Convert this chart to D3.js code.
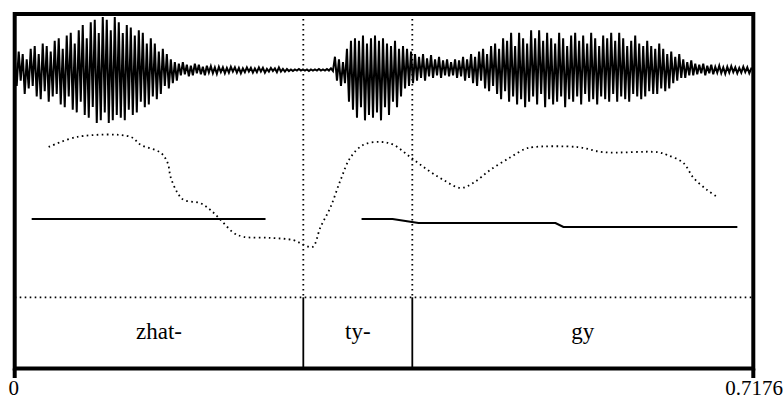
<!DOCTYPE html>
<html>
<head>
<meta charset="utf-8">
<script src="https://cdn.jsdelivr.net/npm/d3@7"></script>
<style>
  html, body { margin: 0; padding: 0; background: #fff; }
  svg text { font-family: "Times New Roman", Times, "Liberation Serif", "DejaVu Serif", "Noto Serif", serif; fill: #000; }
</style>
</head>
<body>
<div id="chart"></div>
<script>
const duration = 0.7176; // seconds

// waveform samples (relative amplitude), evenly spread over the whole duration
const waveform = [
  0.25,-0.3,0.35,-0.2,0.3,-0.45,0.2,-0.35,0.4,-0.3,0.45,-0.5,0.3,-0.55,0.5,-0.4,0.45,-0.6,0.35,-0.5,
  0.55,-0.45,0.6,-0.65,0.4,-0.7,0.65,-0.5,0.7,-0.75,0.5,-0.8,0.75,-0.6,0.85,-0.85,0.6,-0.9,0.9,-0.7,
  0.95,-1.0,0.7,-0.95,1.0,-0.8,0.95,-1.0,0.75,-0.95,1.0,-0.85,0.9,-0.9,0.7,-0.95,0.85,-0.75,0.8,-0.85,
  0.65,-0.8,0.75,-0.6,0.7,-0.7,0.5,-0.65,0.6,-0.5,0.5,-0.55,0.35,-0.45,0.4,-0.3,0.3,-0.35,0.2,-0.25,
  0.15,-0.2,0.12,-0.1,0.15,-0.08,0.1,-0.12,0.08,-0.1,0.12,-0.06,0.1,-0.08,0.06,-0.1,0.08,-0.05,0.07,-0.06,
  0.05,-0.07,0.06,-0.04,0.05,-0.06,0.04,-0.05,0.06,-0.03,0.05,-0.05,0.04,-0.06,0.03,-0.04,0.05,-0.03,0.04,-0.05,
  0.03,-0.04,0.05,-0.03,0.04,-0.05,0.02,-0.03,0.04,-0.02,0.03,-0.04,0.05,-0.03,0.02,-0.03,0.02,-0.02,0.01,-0.02,
  0.01,-0.01,0.02,-0.01,0.01,-0.01,0.01,-0.02,0.01,-0.01,0.01,-0.01,0.02,-0.01,0.01,-0.01,0.02,-0.01,0.03,-0.02,
  0.25,-0.2,0.2,-0.3,0.15,-0.25,0.4,-0.6,0.55,-0.75,0.6,-0.9,0.55,-0.7,0.65,-0.95,0.5,-0.85,0.6,-0.9,
  0.65,-0.8,0.55,-0.95,0.6,-0.7,0.5,-0.85,0.45,-0.6,0.55,-0.7,0.4,-0.5,0.45,-0.35,0.4,-0.3,0.35,-0.25,
  0.3,-0.2,0.25,-0.15,0.3,-0.2,0.22,-0.12,0.28,-0.15,0.2,-0.1,0.25,-0.15,0.18,-0.1,0.2,-0.12,0.15,-0.1,
  0.2,-0.15,0.18,-0.12,0.25,-0.2,0.2,-0.15,0.3,-0.25,0.25,-0.3,0.35,-0.2,0.4,-0.35,0.3,-0.4,0.45,-0.3,
  0.5,-0.45,0.4,-0.55,0.6,-0.4,0.55,-0.6,0.7,-0.5,0.45,-0.65,0.7,-0.55,0.6,-0.7,0.5,-0.6,0.75,-0.5,
  0.6,-0.65,0.75,-0.45,0.55,-0.7,0.7,-0.55,0.6,-0.65,0.5,-0.6,0.7,-0.5,0.6,-0.7,0.45,-0.55,0.65,-0.6,
  0.7,-0.5,0.55,-0.65,0.65,-0.45,0.5,-0.6,0.7,-0.55,0.6,-0.65,0.45,-0.5,0.65,-0.55,0.6,-0.6,0.7,-0.45,
  0.55,-0.6,0.7,-0.5,0.6,-0.55,0.45,-0.6,0.55,-0.45,0.65,-0.5,0.5,-0.55,0.45,-0.5,0.55,-0.4,0.45,-0.45,
  0.4,-0.45,0.5,-0.35,0.4,-0.4,0.3,-0.35,0.35,-0.25,0.25,-0.2,0.3,-0.15,0.2,-0.15,0.15,-0.1,0.18,-0.1,
  0.12,-0.08,0.1,-0.06,0.12,-0.1,0.08,-0.06,0.1,-0.08,0.06,-0.05,0.08,-0.06,0.05,-0.07,0.06,-0.05,0.07,-0.04,
  0.05,-0.06,0.04,-0.05,0.06,-0.04,0.05,-0.06,0.03,0.02
];

// intensity contour (dB)
const intensityTimes = [0.0330,0.0612,0.1126,0.1223,0.1418,0.1486,0.1515,0.1583,0.1641,0.1806,0.1903,0.2000,0.2127,0.2224,
  0.2486,0.2709,0.2806,0.2894,0.2971,0.3068,0.3166,0.3263,0.3389,0.3554,0.3680,0.3845,0.4010,0.4166,0.4331,0.4457,
  0.4622,0.4816,0.4962,0.5040,0.5467,0.5720,0.6244,0.6341,0.6497,0.6594,0.6730,0.6827];
const intensityDb = [76.4,78.2,78.2,76.8,75.4,73.6,71.1,68.3,67.1,66.5,65.3,63.6,61.3,60.6,
  60.4,60.0,59.2,58.8,62.3,65.8,70.6,74.6,76.8,77.3,76.8,74.6,72.4,70.6,69.2,70.1,
  72.4,74.6,76.1,76.4,76.4,75.5,75.5,75.0,73.6,71.0,68.8,67.6];

// pitch contour (Hz), two voiced stretches
const pitchTimes1 = [0.0165, 0.1300, 0.2437];
const pitchHz1 = [137.3, 137.3, 137.3];
const pitchTimes2 = [0.3370, 0.3671, 0.3797, 0.3923, 0.5254, 0.5331, 0.7021];
const pitchHz2 = [137.3, 137.3, 133.8, 130.3, 130.3, 123.2, 123.2];

// text grid
const boundaries = [0.2804, 0.3863];
const intervalLabels = ['zhat-', 'ty-', 'gy'];
const timeLabels = ['0', '0.7176'];

const width = 784;
const height = 399;
const frame = { left: 14.7, right: 753.3, top: 14, bottom: 368.5, tier: 297.3 };

const svg = d3.select('#chart').append('svg')
  .attr('width', width)
  .attr('height', height);

const x = d3.scaleLinear().domain([0, duration]).range([frame.left, frame.right]);
const yWave = d3.scaleLinear().domain([-1, 1]).range([123, 17]);
const yIntensity = d3.scaleLinear().domain([50, 100]).range([297, 13]);
const yPitch = d3.scaleLinear().domain([0, 500]).range([297, 13]);

const dotted = sel => sel.attr('fill', 'none').attr('stroke', '#000')
  .attr('stroke-width', 1.8).attr('stroke-dasharray', '1.6,3.4');

// boundary lines, dotted above the tier
svg.append('g').selectAll('line')
  .data(boundaries)
  .enter().append('line')
    .attr('x1', d => x(d)).attr('x2', d => x(d))
    .attr('y1', frame.top).attr('y2', frame.tier)
    .call(dotted);

// tier top line
svg.append('line')
  .attr('x1', frame.left).attr('x2', frame.right)
  .attr('y1', frame.tier).attr('y2', frame.tier)
  .call(dotted);

// waveform
const waveLine = d3.line()
  .x((d, i) => x(i / (waveform.length - 1) * duration))
  .y(d => yWave(d));
svg.append('path')
  .datum(waveform)
  .attr('d', waveLine)
  .attr('fill', 'none')
  .attr('stroke', '#000')
  .attr('stroke-width', 2)
  .attr('stroke-linejoin', 'miter');

// intensity
const intensityLine = d3.line()
  .x(i => x(intensityTimes[i]))
  .y(i => yIntensity(intensityDb[i]))
  .curve(d3.curveCatmullRom);
svg.append('path')
  .datum(d3.range(intensityTimes.length))
  .attr('d', intensityLine)
  .call(dotted);

// pitch
[[pitchTimes1, pitchHz1], [pitchTimes2, pitchHz2]].forEach(([ts, hz]) => {
  svg.append('path')
    .datum(d3.range(ts.length))
    .attr('d', d3.line().x(i => x(ts[i])).y(i => yPitch(hz[i])))
    .attr('fill', 'none')
    .attr('stroke', '#000')
    .attr('stroke-width', 2.2);
});

// boundaries inside the tier
svg.append('g').selectAll('line')
  .data(boundaries)
  .enter().append('line')
    .attr('x1', d => x(d)).attr('x2', d => x(d))
    .attr('y1', frame.tier).attr('y2', frame.bottom)
    .attr('stroke', '#000')
    .attr('stroke-width', 1.8);

// interval labels
const edges = [0, ...boundaries, duration];
svg.append('g').selectAll('text')
  .data(intervalLabels)
  .enter().append('text')
    .attr('x', (d, i) => (x(edges[i]) + x(edges[i + 1])) / 2)
    .attr('y', 339)
    .attr('text-anchor', 'middle')
    .style('font-size', '23px')
    .text(d => d);

// frame
svg.append('rect')
  .attr('x', frame.left).attr('y', frame.top)
  .attr('width', frame.right - frame.left)
  .attr('height', frame.bottom - frame.top)
  .attr('fill', 'none')
  .attr('stroke', '#000')
  .attr('stroke-width', 4);

// time ticks + labels
svg.append('g').selectAll('line')
  .data([0, duration])
  .enter().append('line')
    .attr('x1', d => x(d)).attr('x2', d => x(d))
    .attr('y1', frame.bottom).attr('y2', 378)
    .attr('stroke', '#000')
    .attr('stroke-width', 4);

svg.append('text')
  .attr('x', x(0) - 1).attr('y', 395)
  .attr('text-anchor', 'middle')
  .style('font-size', '21px')
  .text(timeLabels[0]);

svg.append('text')
  .attr('x', 783).attr('y', 395)
  .attr('text-anchor', 'end')
  .style('font-size', '21px')
  .text(timeLabels[1]);
</script>
</body>
</html>
